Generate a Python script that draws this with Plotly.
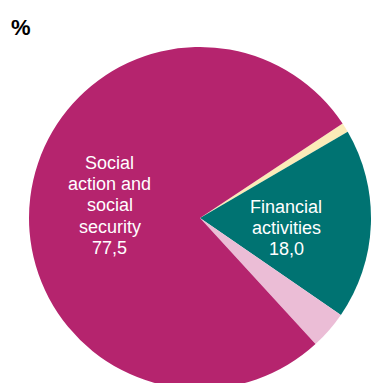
import plotly.graph_objects as go

# Sector shares, in the clockwise order they are drawn
sectors = ["Other (minor)", "Financial activities", "Other", "Social action and social security"]
shares = [0.9, 18.0, 3.6, 77.5]
colors = ["#FCEBB8", "#007372", "#EBBDD6", "#B5246E"]

# Wrapped label lines for the two named sectors
label_lines = {
    "Social action and social security": ["Social", "action and", "social", "security"],
    "Financial activities": ["Financial", "activities"],
}

W, H = 372, 390

fig = go.Figure(
    go.Pie(
        labels=sectors,
        values=shares,
        marker=dict(colors=colors, line=dict(width=0)),
        sort=False,
        direction="clockwise",
        rotation=56.5,
        textinfo="none",
        hoverinfo="label+value",
        domain=dict(x=[29 / W, 371 / W], y=[1 - 389 / H, 1 - 47 / H]),
        showlegend=False,
    )
)


def fmt(v):
    return f"{v:.1f}".replace(".", ",")


annotations = []
# line anchor: (centre x px, first-line centre y px), line step px
anchors = {
    "Social action and social security": (109.5, 163.0),
    "Financial activities": (286.0, 207.0),
}
step = 21.2
for name, (cx, cy) in anchors.items():
    lines = label_lines[name] + [fmt(shares[sectors.index(name)])]
    for i, line in enumerate(lines):
        annotations.append(
            dict(
                text=line,
                x=cx / W,
                y=1 - (cy + i * step) / H,
                xref="paper",
                yref="paper",
                xanchor="center",
                yanchor="middle",
                showarrow=False,
                font=dict(family="Liberation Sans, Arial, sans-serif", size=18, color="white"),
            )
        )

annotations.append(
    dict(
        text="<b>%</b>",
        x=9 / W,
        y=1 - 27.5 / H,
        xref="paper",
        yref="paper",
        xanchor="left",
        yanchor="middle",
        showarrow=False,
        font=dict(family="Liberation Sans, Arial, sans-serif", size=22, color="black"),
    )
)

fig.update_layout(
    width=W,
    height=H,
    margin=dict(l=0, r=0, t=0, b=0),
    paper_bgcolor="white",
    plot_bgcolor="white",
    annotations=annotations,
)

fig.write_html(
    "out.html",
    config={"displayModeBar": False},
    post_script="document.body.style.overflow='hidden';document.documentElement.style.overflow='hidden';",
)
